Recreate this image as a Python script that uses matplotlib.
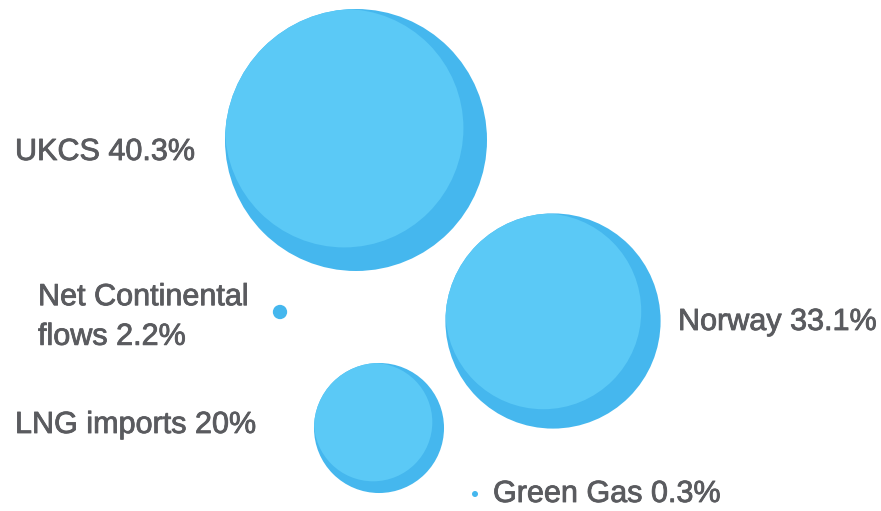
import matplotlib.pyplot as plt
import matplotlib.patheffects as pe
from matplotlib.patches import Circle

# gas supply shares (%)
sources = ["UKCS", "Norway", "LNG imports", "Net Continental\nflows", "Green Gas"]
shares = [40.3, 33.1, 20, 2.2, 0.3]
share_labels = ["40.3%", "33.1%", "20%", "2.2%", "0.3%"]

# layout (pixel space of the 881x511 canvas)
centers = [(356, 140), (553, 321), (379, 428), (280, 312), (475, 494)]
label_pos = [(15, 152), (678, 322), (15, 425), (38, 317), (493, 494)]

OUTER = "#45b7ee"
INNER = "#5bc9f6"
TEXT = "#5a5b5f"
px_per_pct = 131 / 40.3
min_r = 3.0

fig = plt.figure(figsize=(8.81, 5.11), dpi=100)
ax = fig.add_axes([0, 0, 1, 1])
ax.set_xlim(0, 881)
ax.set_ylim(511, 0)
ax.set_aspect("equal")
ax.axis("off")

for name, val, lab, (cx, cy), (tx, ty) in zip(sources, shares, share_labels, centers, label_pos):
    r = max(val * px_per_pct, min_r)
    outer = Circle((cx, cy), r, facecolor=OUTER, edgecolor="none")
    ax.add_patch(outer)
    if r > 20:
        off = 0.09 * r
        inner = Circle((cx - off, cy - off), r - off, facecolor=INNER, edgecolor="none")
        ax.add_patch(inner)
        inner.set_clip_path(outer)
    t = ax.text(tx, ty, f"{name} {lab}", ha="left", va="center", fontsize=22,
                color=TEXT, family="Liberation Sans", linespacing=1.42)
    # slightly heavier strokes, like the original medium weight
    t.set_path_effects([pe.withStroke(linewidth=0.6, foreground=TEXT)])

fig.savefig("out.png", dpi=100)
